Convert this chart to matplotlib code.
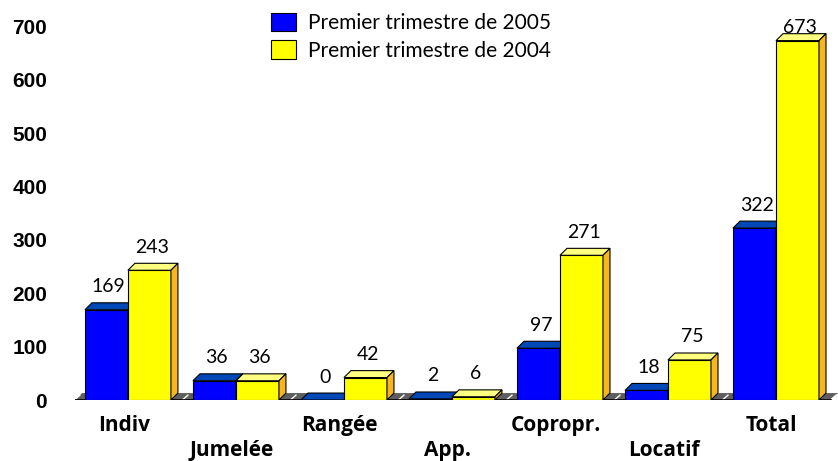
import matplotlib.pyplot as plt
from matplotlib.patches import Polygon, Patch

categories = ["Indiv", "Jumelée", "Rangée", "App.", "Copropr.", "Locatif", "Total"]
t1_2005 = [169, 36, 0, 2, 97, 18, 322]
t1_2004 = [243, 36, 42, 6, 271, 75, 673]
series_labels = ["Premier trimestre de 2005", "Premier trimestre de 2004"]
y_ticks = [0, 100, 200, 300, 400, 500, 600, 700]

# bar geometry (data units)
BAR_W = 0.398
DX, DY = 0.065, 13
X_MIN, X_MAX = -0.49, 6.574
Y_MAX = 720
LABEL_OFF, LABEL_CEIL = 43, 697

blue = {"front": "#0000ff", "top": "#0047b8", "side": "#0000a0"}
yellow = {"front": "#ffff00", "top": "#ffff80", "side": "#f7b61e"}


def faces(ax, x0, h, colors, z):
    edge = dict(edgecolor="black", linewidth=0.8, zorder=z)
    ax.bar(x0, h, width=BAR_W, align="edge", color=colors["front"], **edge)
    x1 = x0 + BAR_W
    ax.add_patch(Polygon([(x0, h), (x1, h), (x1 + DX, h + DY), (x0 + DX, h + DY)],
                         facecolor=colors["top"], **edge))
    if h > 0:
        ax.add_patch(Polygon([(x1, 0), (x1 + DX, DY), (x1 + DX, h + DY), (x1, h)],
                             facecolor=colors["side"], **edge))


fig = plt.figure(figsize=(8.38, 4.61), dpi=100)
ax = fig.add_axes([75 / 838, 61 / 461, 763 / 838, 0.834])
ax.set_xlim(X_MIN, X_MAX)
ax.set_ylim(0, Y_MAX)

# floor
ax.add_patch(Polygon([(X_MIN, 0), (X_MAX - DX, 0), (X_MAX, DY), (X_MIN + DX, DY)],
                     facecolor="#5e5e5e", edgecolor="none", zorder=1))
for i in range(len(categories) + 1):
    b = i - 0.5
    ax.plot([b + 0.01, b + 0.01 + DX * 0.7], [1, DY * 0.7], color="white", lw=1, zorder=1.5)
ax.plot([X_MIN, X_MAX - DX], [0, 0], color="black", lw=1.2, zorder=1.6)

for i, (v05, v04) in enumerate(zip(t1_2005, t1_2004)):
    faces(ax, i - BAR_W, v05, blue, 2 + i * 0.1)
    faces(ax, i, v04, yellow, 2.05 + i * 0.1)
    for x0, v in ((i - BAR_W, v05), (i, v04)):
        ax.text(x0 + BAR_W / 2 + DX / 3, min(v + LABEL_OFF, LABEL_CEIL), str(v),
                ha="center", va="center", fontsize=14, family="Lato", zorder=5)
    off = -25 if i % 2 == 0 else -50
    ax.annotate(categories[i], (i, 0), xytext=(-3, off * 0.72), textcoords="offset points",
                ha="center", va="center", fontsize=15, fontweight="bold",
                family="Open Sans", annotation_clip=False)

ax.set_xticks([])
ax.set_yticks(y_ticks)
ax.set_yticklabels([str(t) for t in y_ticks], fontsize=15, fontweight="bold",
                   family="Liberation Sans")
ax.tick_params(axis="y", length=0, pad=20)
for s in ax.spines.values():
    s.set_visible(False)

handles = [Patch(facecolor=blue["front"], edgecolor="black", lw=0.8),
           Patch(facecolor=yellow["front"], edgecolor="black", lw=0.8)]
fig.legend(handles, series_labels, loc="upper left", bbox_to_anchor=(252 / 838, 1 + 6 / 461),
           frameon=False, prop={"family": "Lato", "size": 15}, handlelength=1.2,
           handleheight=1.0, handletextpad=0.6, labelspacing=0.35)

fig.savefig("out.png", dpi=100)
